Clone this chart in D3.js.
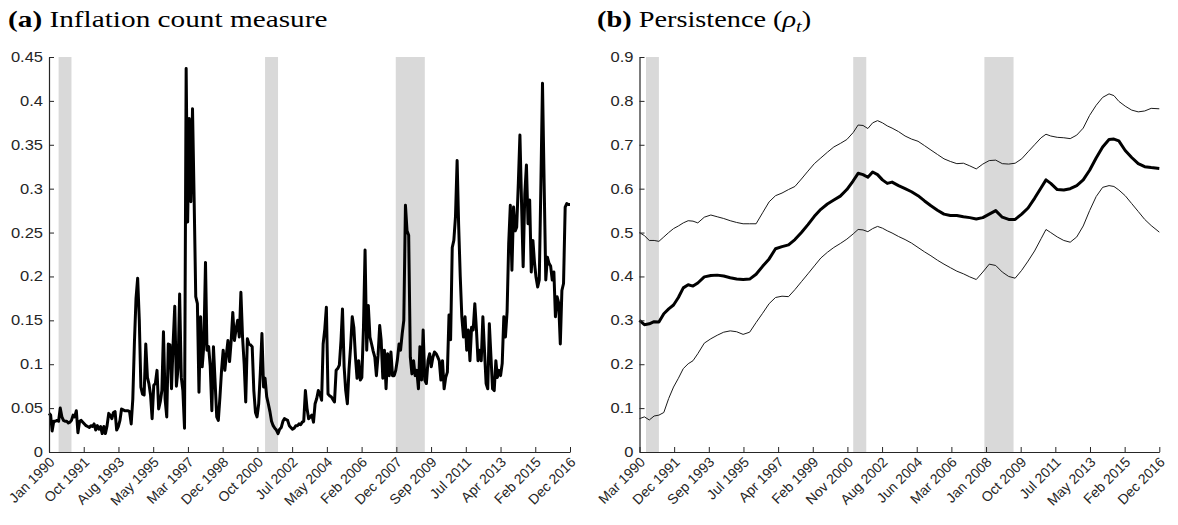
<!DOCTYPE html>
<html>
<head>
<meta charset="utf-8">
<script src="https://cdn.jsdelivr.net/npm/d3@7"></script>
<style>
  html, body { margin: 0; padding: 0; background: #ffffff; }
  svg { display: block; }
</style>
</head>
<body>
<svg id="chart" width="1178" height="525"></svg>
<script>
// ---------------- DATA ----------------
// Panel (a): monthly inflation count measure, Jan 1990 .. Dec 2016
const countStart = "1990-01";
const countValues = [
  0.044,0.042,0.024,0.035,0.035,0.036,0.035,0.050,0.040,0.036,0.035,0.035,
  0.033,0.034,0.036,0.042,0.040,0.047,0.022,0.035,0.036,0.034,0.032,0.030,
  0.029,0.028,0.030,0.029,0.032,0.025,0.030,0.026,0.029,0.021,0.029,0.021,
  0.030,0.044,0.042,0.038,0.045,0.046,0.025,0.029,0.036,0.049,0.048,0.047,
  0.047,0.047,0.046,0.032,0.060,0.125,0.175,0.198,0.150,0.074,0.066,0.065,
  0.123,0.085,0.078,0.065,0.038,0.076,0.078,0.093,0.049,0.057,0.070,0.137,
  0.060,0.040,0.123,0.122,0.072,0.125,0.166,0.075,0.095,0.180,0.085,0.070,
  0.027,0.437,0.262,0.380,0.285,0.391,0.290,0.177,0.169,0.068,0.154,0.097,
  0.122,0.216,0.116,0.120,0.098,0.047,0.120,0.080,0.040,0.036,0.063,0.093,
  0.116,0.093,0.110,0.127,0.103,0.127,0.159,0.127,0.140,0.150,0.131,0.182,
  0.131,0.100,0.057,0.129,0.123,0.122,0.120,0.070,0.045,0.040,0.055,0.090,
  0.135,0.074,0.084,0.063,0.055,0.046,0.035,0.030,0.027,0.025,0.021,0.026,
  0.028,0.035,0.038,0.037,0.036,0.030,0.028,0.026,0.027,0.030,0.030,0.032,
  0.031,0.034,0.035,0.070,0.050,0.038,0.040,0.042,0.034,0.055,0.061,0.070,
  0.066,0.059,0.123,0.140,0.165,0.066,0.064,0.063,0.060,0.057,0.093,0.095,
  0.099,0.127,0.163,0.097,0.070,0.055,0.093,0.120,0.154,0.142,0.108,0.084,
  0.104,0.082,0.085,0.142,0.230,0.116,0.167,0.131,0.123,0.115,0.108,0.087,
  0.110,0.144,0.127,0.084,0.116,0.072,0.112,0.087,0.114,0.087,0.087,0.093,
  0.105,0.123,0.116,0.135,0.150,0.281,0.252,0.247,0.108,0.089,0.104,0.087,
  0.093,0.072,0.120,0.082,0.139,0.082,0.078,0.104,0.112,0.097,0.108,0.114,
  0.112,0.108,0.104,0.082,0.104,0.072,0.085,0.091,0.156,0.128,0.233,0.241,
  0.268,0.332,0.260,0.200,0.154,0.131,0.154,0.116,0.139,0.104,0.142,0.139,
  0.169,0.139,0.104,0.116,0.104,0.154,0.116,0.078,0.072,0.146,0.108,0.072,
  0.070,0.104,0.085,0.093,0.087,0.101,0.154,0.131,0.160,0.237,0.281,0.207,
  0.279,0.252,0.256,0.306,0.361,0.283,0.211,0.294,0.327,0.260,0.287,0.205,
  0.241,0.215,0.199,0.188,0.196,0.306,0.420,0.306,0.196,0.222,0.215,0.212,
  0.196,0.205,0.154,0.177,0.170,0.123,0.184,0.192,0.279,0.283,0.282,0.282
];
const countTickLabels = ["Jan 1990","Oct 1991","Aug 1993","May 1995","Mar 1997","Dec 1998",
  "Oct 2000","Jul 2002","May 2004","Feb 2006","Dec 2007","Sep 2009","Jul 2011","Apr 2013",
  "Feb 2015","Dec 2016"];
const countYTicks = [0,0.05,0.1,0.15,0.2,0.25,0.3,0.35,0.4,0.45];
const countYLabels = ["0","0.05","0.1","0.15","0.2","0.25","0.3","0.35","0.4","0.45"];

// Panel (b): persistence rho_t (median and bands), Mar 1990 .. Dec 2016
const rhoDates = ["1990-03","1990-06","1990-09","1990-12","1991-03","1991-06","1991-09","1991-12",
  "1992-03","1992-06","1992-09","1992-12","1993-03","1993-07","1993-11","1994-03","1994-07","1994-11",
  "1995-03","1995-07","1995-11","1996-03","1996-07","1996-11","1997-03","1997-07","1997-11",
  "1998-03","1998-07","1998-11","1999-03","1999-07","1999-11","2000-03","2000-07","2000-11",
  "2001-03","2001-06","2001-09","2001-12","2002-03","2002-06","2002-09","2002-12","2003-03",
  "2003-07","2003-11","2004-03","2004-07","2004-11","2005-03","2005-07","2005-11","2006-03",
  "2006-07","2006-11","2007-03","2007-07","2007-11","2008-03","2008-07","2008-11","2009-03",
  "2009-07","2009-11","2010-03","2010-07","2010-11","2011-02","2011-05","2011-09","2012-01",
  "2012-05","2012-09","2013-01","2013-05","2013-09","2014-01","2014-05","2014-08","2014-11",
  "2015-03","2015-07","2015-11","2016-03","2016-07","2016-12"];
const rhoMedian = [0.300,0.290,0.292,0.297,0.296,0.315,0.326,0.335,
  0.352,0.374,0.381,0.378,0.385,0.399,0.402,0.403,0.401,0.397,
  0.394,0.393,0.394,0.405,0.423,0.440,0.463,0.468,0.472,
  0.484,0.500,0.518,0.537,0.553,0.565,0.574,0.583,0.598,
  0.618,0.635,0.632,0.626,0.638,0.632,0.620,0.612,0.615,
  0.607,0.600,0.593,0.584,0.572,0.561,0.551,0.542,0.539,
  0.539,0.536,0.534,0.531,0.534,0.542,0.550,0.535,0.530,
  0.530,0.542,0.556,0.578,0.602,0.620,0.612,0.598,0.597,
  0.600,0.607,0.620,0.642,0.670,0.695,0.712,0.713,0.709,
  0.687,0.671,0.657,0.650,0.648,0.646];
const rhoUpper = [0.500,0.493,0.482,0.482,0.480,0.490,0.500,0.509,
  0.515,0.522,0.527,0.526,0.522,0.535,0.540,0.536,0.532,0.527,
  0.523,0.520,0.520,0.520,0.545,0.570,0.584,0.590,0.598,
  0.605,0.622,0.640,0.657,0.670,0.683,0.695,0.703,0.712,
  0.728,0.745,0.744,0.737,0.750,0.755,0.750,0.743,0.738,
  0.730,0.720,0.713,0.708,0.698,0.688,0.678,0.668,0.662,
  0.657,0.658,0.652,0.645,0.656,0.664,0.665,0.657,0.656,
  0.658,0.668,0.684,0.700,0.716,0.724,0.720,0.717,0.716,
  0.714,0.722,0.738,0.767,0.790,0.808,0.816,0.812,0.799,
  0.788,0.779,0.775,0.777,0.783,0.782];
const rhoLower = [0.076,0.080,0.073,0.082,0.084,0.090,0.122,0.148,
  0.168,0.190,0.201,0.208,0.224,0.248,0.258,0.266,0.273,0.276,
  0.274,0.268,0.273,0.295,0.316,0.338,0.352,0.355,0.354,
  0.370,0.388,0.406,0.424,0.442,0.455,0.466,0.475,0.485,
  0.497,0.507,0.506,0.502,0.509,0.514,0.510,0.504,0.499,
  0.491,0.484,0.476,0.466,0.456,0.447,0.437,0.428,0.420,
  0.412,0.406,0.399,0.393,0.410,0.428,0.425,0.410,0.400,
  0.396,0.414,0.435,0.458,0.486,0.507,0.500,0.490,0.482,
  0.478,0.490,0.515,0.550,0.582,0.603,0.607,0.605,0.597,
  0.584,0.566,0.548,0.530,0.516,0.501];
const rhoTickLabels = ["Mar 1990","Dec 1991","Sep 1993","Jul 1995","Apr 1997","Feb 1999",
  "Nov 2000","Aug 2002","Jun 2004","Mar 2006","Jan 2008","Oct 2009","Jul 2011","May 2013",
  "Feb 2015","Dec 2016"];
const rhoYTicks = [0,0.1,0.2,0.3,0.4,0.5,0.6,0.7,0.8,0.9];
const rhoYLabels = ["0","0.1","0.2","0.3","0.4","0.5","0.6","0.7","0.8","0.9"];

// NBER recessions (shaded)
const recessionStart = ["1990-07","2001-03","2007-12"];
const recessionEnd   = ["1991-03","2001-11","2009-06"];

// ---------------- DRAW ----------------
const parseMonth = d3.timeParse("%Y-%m");
const svg = d3.select("#chart");
const tickFont = "'Liberation Sans', Arial, Helvetica, sans-serif";
const axisColor = "#262626";
const stretch = 1.18;   // horizontal stretch of the original figure's text

function panel(opts) {
  const g = svg.append("g");
  const x = d3.scaleTime().domain(opts.xDomain).range(opts.xRange);
  const y = d3.scaleLinear().domain(opts.yDomain).range(opts.yRange);

  // recession shading
  g.append("g").selectAll("rect")
    .data(recessionStart.map((s, i) => [parseMonth(s), parseMonth(recessionEnd[i])]))
    .join("rect")
    .attr("x", d => x(d[0]))
    .attr("width", d => x(d[1]) - x(d[0]))
    .attr("y", y(opts.yDomain[1]))
    .attr("height", y(opts.yDomain[0]) - y(opts.yDomain[1]))
    .attr("fill", "#d9d9d9");

  // series
  opts.series.forEach(s => {
    g.append("path")
      .datum(s.data)
      .attr("fill", "none")
      .attr("stroke", s.color)
      .attr("stroke-width", s.width)
      .attr("stroke-linejoin", "round")
      .attr("d", d3.line().x(d => x(d[0])).y(d => y(d[1])));
  });

  // x axis: 16 equally spaced ticks
  const t0 = opts.xDomain[0].getTime(), t1 = opts.xDomain[1].getTime();
  const tickDates = opts.xLabels.map((_, i) => new Date(t0 + (t1 - t0) * i / (opts.xLabels.length - 1)));
  const xAxis = d3.axisBottom(x).tickValues(tickDates)
    .tickFormat((d, i) => opts.xLabels[i]).tickSizeInner(-5).tickSizeOuter(0);
  const gx = g.append("g").attr("transform", `translate(0,${opts.yRange[0]})`).call(xAxis);
  gx.select(".domain").attr("stroke", axisColor).attr("stroke-width", 1.2);
  gx.selectAll(".tick line").attr("stroke", axisColor);
  gx.selectAll(".tick text")
    .attr("font-family", tickFont).attr("font-size", 14).attr("fill", "#262626")
    .attr("text-anchor", "end")
    .attr("dy", null).attr("y", null)
    .attr("transform", "translate(6,11) rotate(-45)");

  // y axis
  const yAxis = d3.axisLeft(y).tickValues(opts.yTicks)
    .tickFormat((d, i) => opts.yLabels[i]).tickSizeInner(-5).tickSizeOuter(0);
  const gy = g.append("g").attr("transform", `translate(${opts.xRange[0]},0)`).call(yAxis);
  gy.select(".domain").attr("stroke", axisColor).attr("stroke-width", 1.2);
  gy.selectAll(".tick line").attr("stroke", axisColor);
  gy.selectAll(".tick text")
    .attr("font-family", tickFont).attr("font-size", 14).attr("fill", "#262626")
    .attr("x", -6 / stretch)
    .attr("transform", `scale(${stretch},1)`);
}

// Panel (a)
const countSeries = countValues.map((v, i) => [d3.timeMonth.offset(parseMonth(countStart), i), v]);
panel({
  xDomain: [parseMonth("1990-01"), parseMonth("2016-12")],
  xRange: [49, 570],
  yDomain: [0, 0.45],
  yRange: [452, 57],
  xLabels: countTickLabels,
  yTicks: countYTicks, yLabels: countYLabels,
  series: [{ data: countSeries, color: "#000000", width: 3 }]
});

// Panel (b)
const rhoX = rhoDates.map(parseMonth);
panel({
  xDomain: [parseMonth("1990-03"), parseMonth("2016-12")],
  xRange: [639.5, 1159.3],
  yDomain: [0, 0.9],
  yRange: [452, 57],
  xLabels: rhoTickLabels,
  yTicks: rhoYTicks, yLabels: rhoYLabels,
  series: [
    { data: rhoX.map((d, i) => [d, rhoUpper[i]]), color: "#1a1a1a", width: 1 },
    { data: rhoX.map((d, i) => [d, rhoLower[i]]), color: "#1a1a1a", width: 1 },
    { data: rhoX.map((d, i) => [d, rhoMedian[i]]), color: "#000000", width: 3 }
  ]
});

// Titles
const titleFont = "'Liberation Serif', 'Times New Roman', serif";
const ta = svg.append("text").attr("transform", `translate(8,27) scale(${stretch + 0.04},1)`)
  .attr("font-family", titleFont).attr("font-size", 24).attr("fill", "#000");
ta.append("tspan").attr("font-weight", "bold").text("(a)");
ta.append("tspan").text(" Inflation count measure");

const tb = svg.append("text").attr("transform", `translate(597,27) scale(${stretch},1)`)
  .attr("font-family", titleFont).attr("font-size", 24).attr("fill", "#000");
tb.append("tspan").attr("font-weight", "bold").text("(b)");
tb.append("tspan").text(" Persistence (");
tb.append("tspan").attr("font-style", "italic").text("ρ");
tb.append("tspan").attr("font-style", "italic").attr("font-size", 17).attr("dy", 5).text("t");
tb.append("tspan").attr("dy", -5).text(")");
</script>
</body>
</html>
